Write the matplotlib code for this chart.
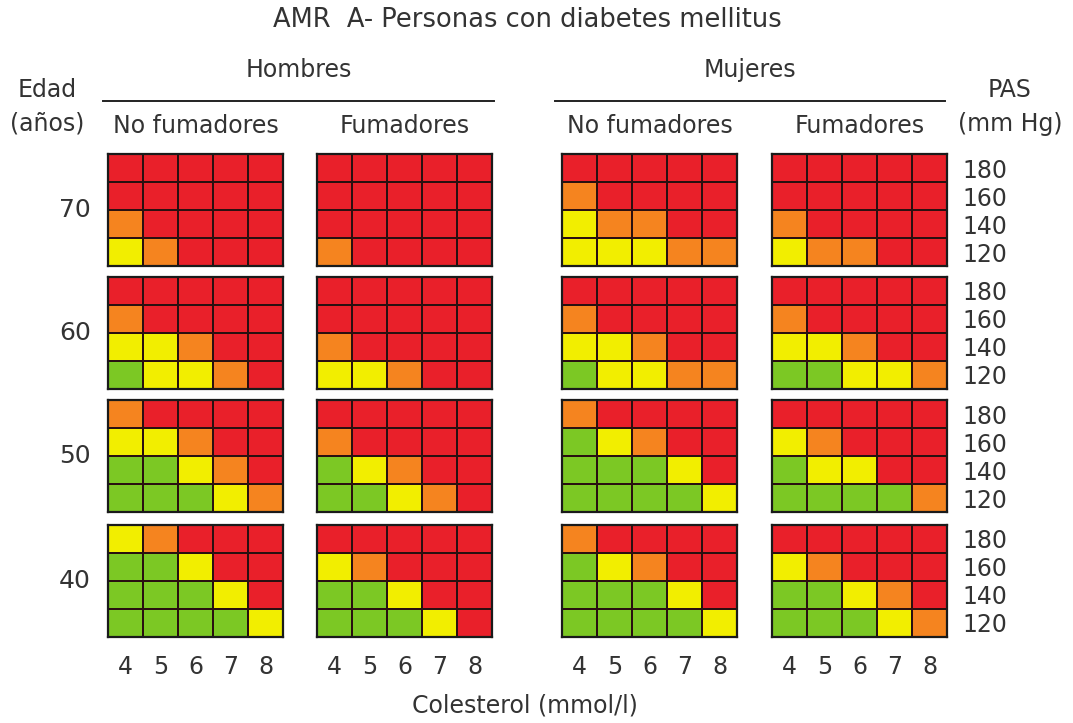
import matplotlib
matplotlib.use("Agg")
import matplotlib.pyplot as plt
from matplotlib.colors import ListedColormap
from matplotlib.lines import Line2D
import numpy as np

# risk level per cell: 0 green, 1 yellow, 2 orange, 3 red
# rows top->bottom = PAS 180,160,140,120 ; cols = colesterol 4..8
men_ns_70 = [[3, 3, 3, 3, 3], [3, 3, 3, 3, 3], [2, 3, 3, 3, 3], [1, 2, 3, 3, 3]]
men_s_70 = [[3, 3, 3, 3, 3], [3, 3, 3, 3, 3], [3, 3, 3, 3, 3], [2, 3, 3, 3, 3]]
women_ns_70 = [[3, 3, 3, 3, 3], [2, 3, 3, 3, 3], [1, 2, 2, 3, 3], [1, 1, 1, 2, 2]]
women_s_70 = [[3, 3, 3, 3, 3], [3, 3, 3, 3, 3], [2, 3, 3, 3, 3], [1, 2, 2, 3, 3]]

men_ns_60 = [[3, 3, 3, 3, 3], [2, 3, 3, 3, 3], [1, 1, 2, 3, 3], [0, 1, 1, 2, 3]]
men_s_60 = [[3, 3, 3, 3, 3], [3, 3, 3, 3, 3], [2, 3, 3, 3, 3], [1, 1, 2, 3, 3]]
women_ns_60 = [[3, 3, 3, 3, 3], [2, 3, 3, 3, 3], [1, 1, 2, 3, 3], [0, 1, 1, 2, 2]]
women_s_60 = [[3, 3, 3, 3, 3], [2, 3, 3, 3, 3], [1, 1, 2, 3, 3], [0, 0, 1, 1, 2]]

men_ns_50 = [[2, 3, 3, 3, 3], [1, 1, 2, 3, 3], [0, 0, 1, 2, 3], [0, 0, 0, 1, 2]]
men_s_50 = [[3, 3, 3, 3, 3], [2, 3, 3, 3, 3], [0, 1, 2, 3, 3], [0, 0, 1, 2, 3]]
women_ns_50 = [[2, 3, 3, 3, 3], [0, 1, 2, 3, 3], [0, 0, 0, 1, 3], [0, 0, 0, 0, 1]]
women_s_50 = [[3, 3, 3, 3, 3], [1, 2, 3, 3, 3], [0, 1, 1, 3, 3], [0, 0, 0, 0, 2]]

men_ns_40 = [[1, 2, 3, 3, 3], [0, 0, 1, 3, 3], [0, 0, 0, 1, 3], [0, 0, 0, 0, 1]]
men_s_40 = [[3, 3, 3, 3, 3], [1, 2, 3, 3, 3], [0, 0, 1, 3, 3], [0, 0, 0, 1, 3]]
women_ns_40 = [[2, 3, 3, 3, 3], [0, 1, 2, 3, 3], [0, 0, 0, 1, 3], [0, 0, 0, 0, 1]]
women_s_40 = [[3, 3, 3, 3, 3], [1, 2, 3, 3, 3], [0, 0, 1, 2, 3], [0, 0, 0, 1, 2]]

ages = ["70", "60", "50", "40"]
chol_labels = ["4", "5", "6", "7", "8"]
pas_labels = ["180", "160", "140", "120"]
groups = ["Hombres", "Mujeres"]
smoke_labels = ["No fumadores", "Fumadores", "No fumadores", "Fumadores"]

grids = [
    [men_ns_70, men_s_70, women_ns_70, women_s_70],
    [men_ns_60, men_s_60, women_ns_60, women_s_60],
    [men_ns_50, men_s_50, women_ns_50, women_s_50],
    [men_ns_40, men_s_40, women_ns_40, women_s_40],
]

cmap = ListedColormap(["#7cc824", "#f2ee00", "#f5841f", "#e9202a"])
txt = "#333333"
fs = 17

W, H = 1073, 723
fig = plt.figure(figsize=(W / 100, H / 100), dpi=100)
fig.patch.set_facecolor("white")

col_x = [108, 317, 562, 772]
row_y = [154, 277, 400, 525]
pw, ph = 175, 112


def frac(x, y, w, h):
    return [x / W, 1 - (y + h) / H, w / W, h / H]


for r in range(4):
    for c in range(4):
        ax = fig.add_axes(frac(col_x[c], row_y[r], pw, ph))
        data = np.array(grids[r][c])[::-1]
        ax.pcolormesh(data, cmap=cmap, vmin=-0.5, vmax=3.5,
                      edgecolors="#2a1010", linewidth=1.1)
        ax.set_xlim(0, 5)
        ax.set_ylim(0, 4)
        for s in ax.spines.values():
            s.set_linewidth(1.6)
            s.set_color("#1a1a1a")
        ax.tick_params(length=0)
        if r == 3:
            ax.set_xticks(np.arange(5) + 0.5)
            ax.set_xticklabels(chol_labels, fontsize=fs, color=txt)
            ax.tick_params(axis="x", pad=13)
        else:
            ax.set_xticks([])
        if c == 3:
            ax.yaxis.tick_right()
            ax.set_yticks(np.arange(4) + 0.5)
            ax.set_yticklabels(pas_labels[::-1], fontsize=fs, color=txt)
            ax.tick_params(axis="y", pad=11)
        else:
            ax.set_yticks([])
        if c == 0:
            ax.text(-0.19, 0.5, ages[r], transform=ax.transAxes, ha="center",
                    va="center", fontsize=fs + 1, color=txt)

# headers
fig.text(527 / W, 1 - 20 / H, "AMR  A- Personas con diabetes mellitus",
         ha="center", va="center", fontsize=fs + 1.5, color=txt)
for i, g in enumerate(groups):
    x0, x1 = [(103, 494), (555, 945)][i]
    fig.text((x0 + x1) / 2 / W, 1 - 70 / H, g, ha="center", va="center",
             fontsize=fs, color=txt)
    fig.add_artist(Line2D([x0 / W, x1 / W], [1 - 101 / H, 1 - 101 / H],
                          color="#222222", linewidth=1.4))
for c in range(4):
    fig.text((col_x[c] + pw / 2) / W, 1 - 126 / H, smoke_labels[c],
             ha="center", va="center", fontsize=fs, color=txt)

fig.text(47 / W, 1 - 90 / H, "Edad", ha="center", va="center", fontsize=fs, color=txt)
fig.text(47 / W, 1 - 124 / H, "(años)", ha="center", va="center", fontsize=fs, color=txt)
fig.text(1010 / W, 1 - 90 / H, "PAS", ha="center", va="center", fontsize=fs, color=txt)
fig.text(1010 / W, 1 - 124 / H, "(mm Hg)", ha="center", va="center", fontsize=fs, color=txt)
fig.text(525 / W, 1 - 705 / H, "Colesterol (mmol/l)", ha="center", va="center",
         fontsize=fs, color=txt)

fig.savefig("out.png", dpi=100, facecolor="white")
